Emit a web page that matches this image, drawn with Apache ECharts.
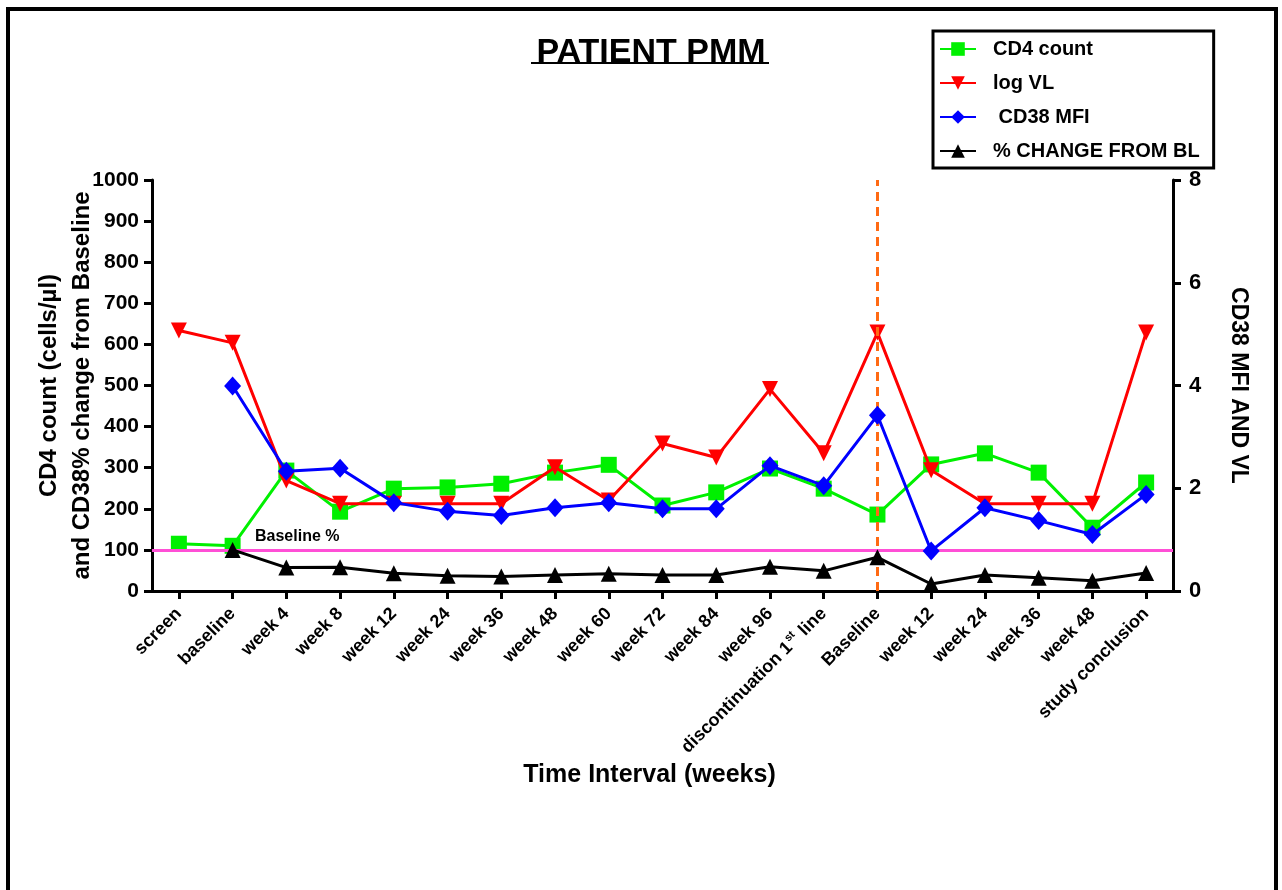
<!DOCTYPE html>
<html>
<head>
<meta charset="utf-8">
<title>Patient PMM</title>
<script src="https://cdn.jsdelivr.net/npm/echarts@6/dist/echarts.min.js"></script>
<style>
  html, body { margin: 0; padding: 0; background: #ffffff; }
  #chart { width: 1282px; height: 890px; }
</style>
</head>
<body>
<div id="chart"></div>
<script>
const categories = [
  "screen", "baseline", "week 4", "week 8", "week 12", "week 24", "week 36",
  "week 48", "week 60", "week 72", "week 84", "week 96",
  "discontinuation 1st line", "Baseline", "week 12", "week 24", "week 36",
  "week 48", "study conclusion",
];

// left axis (cells/µl and %)
const cd4Count = [115, 110, 293, 193, 249, 252, 261, 288, 307, 208, 240, 298, 249, 186, 308, 335, 288, 154, 264];
const pctChange = [null, 100, 57, 58, 43, 37, 35, 39, 42, 39, 39, 59, 49, 82, 17, 39, 32, 25, 44];

// right axis
const logVL = [5.07, 4.83, 2.15, 1.7, 1.7, 1.7, 1.7, 2.41, 1.76, 2.87, 2.6, 3.93, 2.68, 5.03, 2.35, 1.7, 1.7, 1.7, 5.03];
const cd38Mfi = [null, 3.99, 2.33, 2.39, 1.72, 1.55, 1.47, 1.62, 1.72, 1.6, 1.6, 2.44, 2.05, 3.42, 0.78, 1.62, 1.37, 1.1, 1.88];

const baselinePct = 100;
const switchIndex = 13;

const colors = {
  cd4: "#00f000",
  vl: "#ff0000",
  cd38: "#0000ff",
  pct: "#000000",
  baseline: "#ff4fd6",
  switchLine: "#ff6a13",
  text: "#000000",
};

const font = "'Liberation Sans', Arial, sans-serif";

const chart = echarts.init(document.getElementById("chart"), null, { renderer: "canvas" });

const axisLine = { show: true, lineStyle: { color: "#000", width: 3 } };
const axisTick = { show: true, inside: false, length: 8, lineStyle: { color: "#000", width: 3 } };

const options = {
  backgroundColor: "#ffffff",
  animation: false,
  textStyle: { fontFamily: font, color: colors.text },
  title: {
    text: "PATIENT PMM",
    left: 646,
    top: 31,
    textAlign: "center",
    textStyle: { fontSize: 34, fontWeight: "bold", color: "#000", fontFamily: font },
  },
  graphic: [
    {
      type: "polyline",
      shape: { points: [[8, 892], [8, 9], [1276, 9], [1276, 892]] },
      style: { stroke: "#000", lineWidth: 4, fill: null },
      silent: true,
    },
    {
      type: "line",
      shape: { x1: 531, y1: 63, x2: 769, y2: 63 },
      style: { stroke: "#000", lineWidth: 2 },
      silent: true,
    },
  ],
  legend: {
    orient: "vertical",
    left: 933,
    top: 31,
    itemWidth: 36,
    itemHeight: 17,
    itemGap: 12,
    padding: [7, 14, 6, 6],
    borderColor: "#000",
    borderWidth: 3,
    textStyle: {
      fontSize: 20,
      fontWeight: "bold",
      color: "#000",
      fontFamily: font,
      lineHeight: 22,
      padding: [0, 0, 0, 12],
    },
    data: ["CD4 count", "log VL", " CD38 MFI", "% CHANGE FROM BL"],
  },
  grid: { left: 152, right: 109, top: 180, bottom: 299, containLabel: false },
  xAxis: {
    type: "category",
    data: categories,
    boundaryGap: true,
    axisLine: axisLine,
    axisTick: { ...axisTick, alignWithLabel: true },
    splitLine: { show: false },
    axisLabel: {
      interval: 0,
      rotate: 45,
      margin: 20,
      fontSize: 18,
      fontWeight: "bold",
      color: "#000",
      fontFamily: font,
      formatter: (v) => v.replace("1st", "1{sup|st}"),
      rich: {
        sup: { fontSize: 11, fontWeight: "bold", color: "#000", padding: [0, 1, 12, 1] },
      },
    },
    name: "Time Interval (weeks)",
    nameLocation: "middle",
    nameGap: 172,
    nameTextStyle: { fontSize: 25, fontWeight: "bold", color: "#000", fontFamily: font, padding: [0, 26, 0, 0] },
  },
  yAxis: [
    {
      type: "value",
      min: 0,
      max: 1000,
      interval: 100,
      position: "left",
      axisLine: axisLine,
      axisTick: axisTick,
      splitLine: { show: false },
      axisLabel: {
        fontSize: 21,
        fontWeight: "bold",
        color: "#000",
        margin: 13,
        fontFamily: font,
        formatter: (v) => String(v),
      },
      name: "CD4 count (cells/µl)\nand CD38% change from Baseline",
      nameLocation: "middle",
      nameGap: 53,
      nameMoveOverlap: false,
      nameRotate: 90,
      nameTextStyle: { fontSize: 24, fontWeight: "bold", color: "#000", fontFamily: font, lineHeight: 33 },
    },
    {
      type: "value",
      min: 0,
      max: 8,
      interval: 2,
      position: "right",
      axisLine: axisLine,
      axisTick: axisTick,
      splitLine: { show: false },
      axisLabel: { fontSize: 22, fontWeight: "bold", color: "#000", margin: 16, fontFamily: font },
      name: "CD38 MFI AND VL",
      nameLocation: "middle",
      nameGap: 54,
      nameRotate: -90,
      nameTextStyle: { fontSize: 23, fontWeight: "bold", color: "#000", fontFamily: font },
    },
  ],
  series: [
    {
      name: "CD4 count",
      type: "line",
      yAxisIndex: 0,
      data: cd4Count,
      symbol: "rect",
      symbolSize: 16,
      lineStyle: { color: colors.cd4, width: 3 },
      itemStyle: { color: colors.cd4 },
      z: 3,
      markLine: {
        silent: true,
        symbol: "none",
        animation: false,
        lineStyle: { color: colors.baseline, width: 3, type: "solid" },
        label: {
          show: true,
          position: "insideStartTop",
          formatter: "Baseline %",
          fontSize: 16,
          fontWeight: "bold",
          color: "#000",
          fontFamily: font,
          padding: [0, 0, 0, 98],
        },
        data: [{ yAxis: baselinePct }],
      },
    },
    {
      name: "log VL",
      type: "line",
      yAxisIndex: 1,
      data: logVL,
      symbol: "triangle",
      symbolRotate: 180,
      symbolSize: 16,
      lineStyle: { color: colors.vl, width: 3 },
      itemStyle: { color: colors.vl },
      z: 4,
      markLine: {
        silent: true,
        symbol: "none",
        animation: false,
        lineStyle: { color: colors.switchLine, width: 3, type: [9, 6] },
        label: { show: false },
        data: [{ xAxis: switchIndex }],
      },
    },
    {
      name: " CD38 MFI",
      type: "line",
      yAxisIndex: 1,
      data: cd38Mfi,
      symbol: "diamond",
      symbolSize: [17, 19],
      lineStyle: { color: colors.cd38, width: 3 },
      itemStyle: { color: colors.cd38 },
      z: 5,
    },
    {
      name: "% CHANGE FROM BL",
      type: "line",
      yAxisIndex: 0,
      data: pctChange,
      symbol: "triangle",
      symbolSize: 16,
      lineStyle: { color: colors.pct, width: 3 },
      itemStyle: { color: colors.pct },
      z: 6,
    },
  ],
};

chart.setOption(options);
</script>
</body>
</html>
